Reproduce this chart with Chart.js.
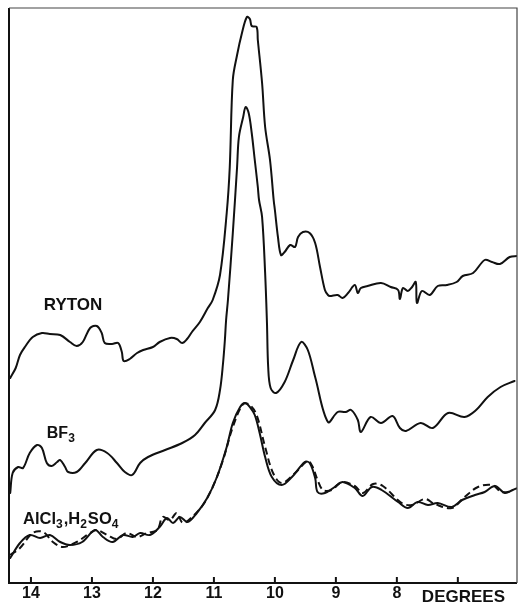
<!DOCTYPE html>
<html>
<head>
<meta charset="utf-8">
<script src="https://cdn.jsdelivr.net/npm/chart.js@4.4.1/dist/chart.umd.min.js"></script>
<style>
  html, body { margin: 0; padding: 0; background: #fff; }
  #wrap { width: 518px; height: 603px; }
</style>
</head>
<body>
<div id="wrap"><canvas id="xrd-chart"></canvas></div>
<script>
// Diffraction angle (degrees) and intensity (arbitrary units)
const rytonDeg = [14.34, 14.25, 14.18, 14.10, 13.97, 13.82, 13.69, 13.52, 13.36, 13.25, 13.15, 13.03, 12.92, 12.84, 12.79, 12.67, 12.57, 12.51, 12.48, 12.38, 12.26, 12.16, 12.00, 11.89, 11.72, 11.61, 11.52, 11.44, 11.36, 11.23, 11.10, 11.02, 10.90, 10.79, 10.74, 10.69, 10.62, 10.54, 10.46, 10.41, 10.38, 10.30, 10.28, 10.21, 10.16, 10.08, 10.02, 10.00, 9.95, 9.90, 9.84, 9.75, 9.67, 9.62, 9.54, 9.43, 9.34, 9.26, 9.18, 9.13, 9.10, 8.97, 8.89, 8.80, 8.69, 8.64, 8.59, 8.48, 8.26, 8.10, 7.98, 7.95, 7.90, 7.82, 7.75, 7.69, 7.67, 7.59, 7.46, 7.33, 7.18, 7.02, 6.92, 6.75, 6.56, 6.44, 6.31, 6.15, 6.02];
const rytonInt = [205, 215, 228, 236, 246, 250, 249, 248, 241, 237, 241, 255, 257, 250, 240, 239, 240, 231, 222, 224, 230, 233, 236, 241, 245, 244, 240, 244, 251, 261, 275, 283, 308, 370, 416, 503, 528, 550, 566, 564, 557, 556, 543, 500, 456, 423, 383, 373, 346, 328, 331, 338, 336, 346, 351, 350, 340, 316, 293, 288, 287, 288, 285, 290, 298, 290, 295, 297, 300, 296, 293, 284, 295, 292, 296, 301, 280, 292, 288, 297, 298, 301, 307, 310, 323, 321, 319, 326, 327];

const bf3Deg = [14.34, 14.30, 14.21, 14.13, 14.02, 13.90, 13.82, 13.74, 13.66, 13.57, 13.52, 13.44, 13.39, 13.25, 13.11, 12.92, 12.75, 12.59, 12.46, 12.34, 12.21, 12.08, 11.80, 11.52, 11.31, 11.15, 10.98, 10.90, 10.85, 10.82, 10.80, 10.77, 10.69, 10.62, 10.59, 10.52, 10.48, 10.43, 10.38, 10.33, 10.28, 10.26, 10.21, 10.16, 10.13, 10.11, 10.07, 9.98, 9.84, 9.70, 9.57, 9.46, 9.34, 9.13, 8.97, 8.84, 8.75, 8.64, 8.59, 8.43, 8.26, 8.07, 7.95, 7.85, 7.61, 7.41, 7.16, 6.89, 6.70, 6.51, 6.30, 6.07];
const bf3Int = [90, 110, 116, 115, 130, 138, 135, 120, 117, 121, 123, 116, 111, 111, 120, 133, 130, 120, 111, 108, 120, 126, 133, 140, 148, 160, 173, 193, 220, 243, 263, 283, 350, 416, 446, 466, 476, 470, 450, 423, 396, 383, 366, 310, 260, 216, 195, 190, 201, 223, 241, 233, 206, 161, 171, 171, 173, 163, 151, 166, 160, 167, 155, 152, 160, 155, 170, 166, 173, 186, 196, 202];

const alSolidDeg = [14.34, 14.18, 14.02, 13.85, 13.69, 13.52, 13.36, 13.16, 12.95, 12.82, 12.66, 12.49, 12.33, 12.21, 12.05, 11.89, 11.77, 11.67, 11.56, 11.43, 11.28, 11.11, 10.95, 10.79, 10.69, 10.57, 10.49, 10.41, 10.33, 10.25, 10.16, 10.05, 9.89, 9.72, 9.51, 9.43, 9.34, 9.30, 9.18, 9.02, 8.89, 8.69, 8.56, 8.41, 8.25, 7.98, 7.82, 7.66, 7.49, 7.33, 7.10, 6.93, 6.72, 6.56, 6.39, 6.23, 6.10, 6.02];
const alSolidInt = [25, 40, 48, 45, 48, 41, 38, 41, 53, 46, 41, 48, 46, 50, 48, 56, 65, 60, 66, 61, 70, 85, 106, 136, 160, 176, 180, 176, 168, 150, 126, 106, 98, 106, 121, 120, 105, 91, 90, 96, 101, 95, 87, 96, 93, 81, 75, 81, 78, 80, 76, 83, 88, 91, 97, 90, 93, 95];

const alDashDeg = [14.34, 14.18, 13.97, 13.80, 13.64, 13.48, 13.25, 13.03, 12.92, 12.75, 12.59, 12.43, 12.26, 12.10, 11.93, 11.84, 11.72, 11.61, 11.51, 11.36, 11.18, 11.02, 10.85, 10.69, 10.52, 10.41, 10.30, 10.16, 10.03, 9.89, 9.67, 9.46, 9.38, 9.30, 9.21, 9.07, 8.90, 8.69, 8.56, 8.39, 8.23, 7.92, 7.75, 7.54, 7.38, 7.10, 6.89, 6.67, 6.44, 6.28, 6.10];
const alDashInt = [28, 35, 50, 51, 41, 36, 41, 50, 53, 48, 44, 50, 46, 50, 53, 66, 63, 70, 60, 66, 78, 96, 123, 156, 179, 178, 168, 136, 110, 100, 110, 122, 116, 103, 93, 93, 101, 97, 90, 99, 97, 80, 78, 84, 79, 75, 86, 96, 98, 91, 92];

const tickValues = [14, 13, 12, 11, 10, 9, 8, 7];
const tickLabels = ['14', '13', '12', '11', '10', '9', '8', ''];

const toPoints = (xs, ys) => xs.map((x, i) => ({ x: x, y: ys[i] }));

const FONT = '"Liberation Sans", Arial, Helvetica, sans-serif';

// curve labels, placed in data space
const curveLabels = [
  { parts: [['RYTON', false]], deg: 13.79, y: 273, size: 17 },
  { parts: [['BF', false], ['3', true]], deg: 13.74, y: 145, size: 16 },
  { parts: [['AlCl', false], ['3', true], [',H', false], ['2', true], ['SO', false], ['4', true]], deg: 14.13, y: 59, size: 16.5 }
];

function drawParts(ctx, parts, x, y, size) {
  parts.forEach(function(p) {
    const sub = p[1];
    ctx.font = 'bold ' + (sub ? Math.round(size * 0.72) : size) + 'px ' + FONT;
    ctx.fillText(p[0], x, sub ? y + 4 : y);
    x += ctx.measureText(p[0]).width + (sub ? 1 : 0);
  });
}

const framePlugin = {
  id: 'frame',
  afterDraw(chart) {
    const ctx = chart.ctx;
    const a = chart.chartArea;
    const xs = chart.scales.x;
    const ys = chart.scales.y;
    ctx.save();
    ctx.strokeStyle = '#111';
    // bord gauche + axe du bas
    ctx.lineWidth = 2;
    ctx.beginPath(); ctx.moveTo(a.left, a.top); ctx.lineTo(a.left, a.bottom + 1); ctx.stroke();
    ctx.beginPath(); ctx.moveTo(a.left, a.bottom); ctx.lineTo(a.right, a.bottom); ctx.stroke();
    // haut et droite, plus fins
    ctx.lineWidth = 1.2;
    ctx.strokeStyle = '#444';
    ctx.beginPath(); ctx.moveTo(a.left, a.top); ctx.lineTo(a.right, a.top); ctx.lineTo(a.right, a.bottom); ctx.stroke();
    // graduations vers l'intérieur
    ctx.lineWidth = 2;
    ctx.strokeStyle = '#111';
    tickValues.forEach(function(v) {
      const px = xs.getPixelForValue(v);
      ctx.beginPath(); ctx.moveTo(px, a.bottom); ctx.lineTo(px, a.bottom - 6); ctx.stroke();
    });
    // étiquettes des courbes
    ctx.fillStyle = '#111';
    ctx.textBaseline = 'alphabetic';
    curveLabels.forEach(function(l) {
      drawParts(ctx, l.parts, xs.getPixelForValue(l.deg), ys.getPixelForValue(l.y), l.size);
    });
    // titre de l'axe
    ctx.font = 'bold 17px ' + FONT;
    ctx.fillText('DEGREES', xs.getPixelForValue(7.59), a.bottom + 19);
    ctx.restore();
  }
};

function initializeXrdChart() {
  const el = document.getElementById('xrd-chart');
  if (!el || typeof Chart === 'undefined') {
    console.warn('Chart.js manquant');
    return;
  }

  const lineStyle = {
    borderColor: '#111',
    borderWidth: 2,
    pointRadius: 0,
    tension: 0.35,
    fill: false,
    borderJoinStyle: 'round',
    borderCapStyle: 'round'
  };

  new Chart(el, {
    type: 'line',
    data: {
      datasets: [
        Object.assign({ label: 'RYTON', data: toPoints(rytonDeg, rytonInt) }, lineStyle),
        Object.assign({ label: 'BF3', data: toPoints(bf3Deg, bf3Int) }, lineStyle),
        Object.assign({ label: 'AlCl3', data: toPoints(alSolidDeg, alSolidInt) }, lineStyle),
        Object.assign({ label: 'H2SO4', data: toPoints(alDashDeg, alDashInt) }, lineStyle, { borderDash: [7, 4], borderCapStyle: 'butt' })
      ]
    },
    options: {
      responsive: true,
      maintainAspectRatio: false,
      animation: false,
      layout: { padding: { left: 9, right: 1, top: 8, bottom: 0 } },
      scales: {
        x: {
          type: 'linear',
          reverse: true,
          min: 6.03,
          max: 14.36,
          afterBuildTicks: function(scale) {
            scale.ticks = tickValues.map(v => ({ value: v }));
          },
          afterFit: function(scale) { scale.height = 20; },
          grid: { display: false, drawTicks: false },
          border: { display: false },
          ticks: {
            color: '#111',
            padding: 1,
            maxRotation: 0,
            autoSkip: false,
            font: { family: FONT, size: 16, weight: 'bold' },
            callback: function(value) {
              const i = tickValues.indexOf(value);
              return i >= 0 ? tickLabels[i] : '';
            }
          }
        },
        y: {
          display: false,
          min: 0,
          max: 575
        }
      },
      plugins: {
        legend: { display: false },
        tooltip: { enabled: false }
      }
    },
    plugins: [framePlugin]
  });
}

initializeXrdChart();
</script>
</body>
</html>
